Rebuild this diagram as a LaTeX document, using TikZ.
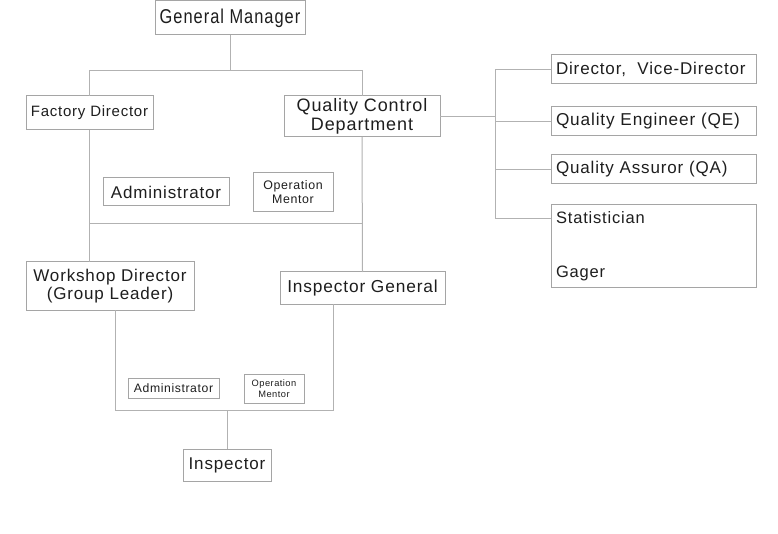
\documentclass[tikz,border=0pt]{standalone}
\usepackage{fontspec}
\setmainfont{Liberation Sans}[LetterSpace=5]
\newfontfamily\gmfont{Liberation Sans}[FakeStretch=0.82, LetterSpace=5]
\usetikzlibrary{positioning}
\definecolor{linegray}{RGB}{178,178,178}
\definecolor{boxgray}{RGB}{165,165,165}
\definecolor{inkgray}{RGB}{30,30,30}
\tikzset{
x=1pt, y=-1pt, % pixel-like units, y runs downwards
post/.style={draw=boxgray, line width=1pt, text=inkgray, inner sep=0pt, outer sep=0pt, align=center, anchor=north west}, % every box of the chart
col/.style={post, text width=195pt, inner xsep=5pt, align=left, minimum height=29pt}, % boxes of the right column
wire/.style={draw=linegray, line width=1pt}, % connectors
}

\begin{document}
\begin{tikzpicture}
    \fill[white] (0,0) rectangle (778,534);
    \useasboundingbox (0,0) rectangle (778,534);
    % left part
    \node[post, minimum width=150, minimum height=34, font=\gmfont\fontsize{20}{22}\selectfont] (gm) at (155,1) {General Manager};
    \node[post, minimum width=127, minimum height=34, font=\fontsize{15}{18}\selectfont] (fd) at (26,96) {Factory Director};
    \node[post, minimum width=156, minimum height=41, font=\fontsize{18}{19}\selectfont] (qcd) at (284,96) {Quality Control\\Department};
    \node[post, minimum width=126, minimum height=28, font=\fontsize{17}{18}\selectfont] (adm1) at (103,178) {Administrator};
    \node[post, minimum width=80, minimum height=39, font=\fontsize{12.4}{14}\selectfont] (om1) at (253,173) {Operation\\Mentor};
    \node[post, minimum width=168, minimum height=48, font=\fontsize{17}{18}\selectfont] (wd) at (26,262) {Workshop Director\\(Group Leader)};
    \node[post, minimum width=165, minimum height=32, font=\fontsize{17.3}{20}\selectfont] (ig) at (280,272) {Inspector General};
    \node[post, minimum width=91, minimum height=20, font=\fontsize{12.2}{14}\selectfont] (adm2) at (128,378) {Administrator};
    \node[post, minimum width=60, minimum height=29, font=\fontsize{9.3}{11}\selectfont] (om2) at (244,374) {Operation\\Mentor};
    \node[post, minimum width=88, minimum height=32, font=\fontsize{17}{20}\selectfont] (insp) at (183,449) {Inspector};
    % right column
    \node[col, font=\fontsize{17}{18}\selectfont] (dvd) at (551,55) {Director,\ \ Vice-Director};
    \node[col, font=\fontsize{17.2}{18}\selectfont, below=23pt of dvd.south west, anchor=north west] (qe) {Quality Engineer (QE)};
    \node[col, font=\fontsize{17}{18}\selectfont, below=19pt of qe.south west, anchor=north west] (qa) {Quality Assuror (QA)};
    \node[col, font=\fontsize{16.5}{18}\selectfont, minimum height=83, below=21pt of qa.south west, anchor=north west] (stat) {Statistician\\[36pt]Gager};

    \coordinate (topbus) at (0,71);
    \coordinate (midbus) at (0,224);
    \coordinate (lowbus) at (0,410);
    \coordinate (rbus) at (495,0);
    \coordinate (wdfoot) at ([xshift=5pt]wd.south);
    \coordinate (igfoot) at ([xshift=-29pt]ig.south);
    \coordinate (statin) at ([yshift=-14pt]stat.north west);

    \draw[wire] (gm.south) -- (gm.south |- topbus);
    \draw[wire] (fd.north) |- (qcd.north |- topbus) -- (qcd.north);
    \draw[wire] (fd.south) -- (fd.south |- wd.north);
    \draw[wire] (qcd.south) -- (ig.north);
    \draw[wire] (fd.south |- midbus) -- (qcd.south |- midbus);
    \draw[wire] (wdfoot) |- (igfoot |- lowbus) -- (igfoot);
    \draw[wire] (insp.north) -- (insp.north |- lowbus);
    \draw[wire] (qcd.east) -- (qcd.east -| rbus);
    \draw[wire] (rbus |- dvd.west) -- (rbus |- statin);
    \draw[wire] (rbus |- dvd.west) -- (dvd.west);
    \draw[wire] (rbus |- qe.west) -- (qe.west);
    \draw[wire] (rbus |- qa.west) -- (qa.west);
    \draw[wire] (rbus |- statin) -- (statin);
\end{tikzpicture}
\end{document}
